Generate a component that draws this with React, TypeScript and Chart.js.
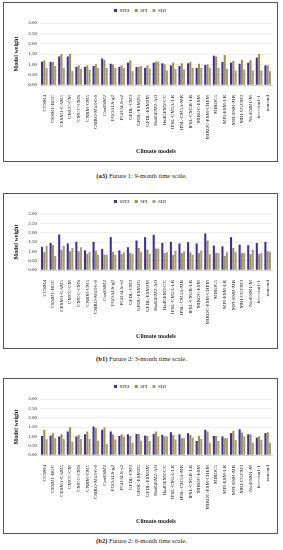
import React, { useEffect, useRef } from "react";
import { Chart, registerables } from "chart.js";

Chart.register(...registerables);

const models = [
  "CCSM4", "CESM1-BGC", "CESM1-CAM5", "CMCC-CM", "CMCC-CMS", "CNRM-CM5",
  "CSIRO-Mk3-6-0", "CanESM2", "FGOALS-g2", "FGOALS-s2", "GFDL-CM3",
  "GFDL-ESM2G", "GFDL-ESM2M", "HadGEM2-AO", "HadGEM2-CC", "IPSL-CM5A-LR",
  "IPSL-CM5A-MR", "IPSL-CM5B-LR", "MIROC-ESM", "MIROC-ESM-CHEM", "MIROC5",
  "MPI-ESM-LR", "MPI-ESM-MR", "MRI-CGCM3", "NorESM1-M", "bcc-csm1-1", "inmcm4",
];

const seriesNames = ["SPEI", "SPI", "SDI"];
const yTicks = [0, 0.5, 1, 1.5, 2, 2.5, 3];

// (a3) Future 1: 9-month
const a3Spei = [1.13, 1.12, 1.38, 1.38, 0.88, 0.88, 0.92, 1.28, 1.03, 0.88, 1.08, 0.87, 0.83, 1.08, 1.05, 0.95, 0.92, 1.05, 0.83, 0.97, 1.42, 1.12, 1.08, 1.03, 1.08, 1.33, 0.95];
const a3Spi = [1.2, 1.12, 1.5, 1.5, 0.95, 0.95, 1.0, 1.22, 1.0, 0.95, 1.2, 0.88, 0.95, 1.13, 1.0, 1.08, 1.05, 1.12, 1.03, 1.0, 1.38, 1.45, 1.17, 1.22, 1.2, 1.5, 0.95];
const a3Sdi = [0.83, 0.92, 0.83, 0.67, 0.78, 0.75, 0.83, 0.83, 0.83, 0.83, 0.67, 0.92, 0.8, 1.13, 0.7, 0.78, 0.75, 0.83, 0.83, 0.83, 0.83, 0.78, 0.7, 0.75, 0.7, 0.7, 0.67];

// (b1) Future 2: 3-month
const b1Spei = [1.24, 1.45, 1.9, 1.42, 1.51, 1.05, 1.51, 1.13, 1.76, 1.05, 1.22, 1.58, 1.76, 1.89, 1.45, 1.51, 1.42, 1.49, 1.42, 1.96, 1.31, 1.27, 1.76, 1.36, 1.33, 1.45, 1.51];
const b1Spi = [0.95, 1.33, 1.09, 1.0, 1.0, 0.87, 1.04, 0.82, 0.96, 0.85, 0.91, 1.18, 1.09, 1.15, 0.91, 0.82, 0.91, 0.95, 0.91, 1.58, 0.91, 0.76, 1.18, 0.91, 0.85, 0.85, 1.0];
const b1Sdi = [1.3, 0.76, 1.3, 1.18, 1.22, 0.96, 0.82, 0.82, 0.82, 0.95, 0.87, 0.95, 0.87, 1.15, 0.95, 1.04, 1.0, 0.82, 1.04, 0.85, 0.91, 0.95, 0.95, 0.91, 1.09, 0.91, 0.96];

// (b2) Future 2: 6-month
const b2Spei = [1.02, 1.04, 0.99, 1.26, 0.99, 1.11, 1.53, 1.35, 1.26, 1.02, 1.11, 1.13, 1.04, 1.13, 1.08, 1.22, 1.11, 1.17, 0.75, 1.35, 1.02, 0.99, 1.17, 1.38, 1.11, 0.93, 1.17];
const b2Spi = [1.35, 1.17, 1.11, 1.49, 1.08, 1.26, 1.44, 1.47, 1.11, 1.11, 1.02, 1.13, 1.02, 1.26, 0.99, 1.08, 0.9, 1.08, 1.02, 1.26, 1.02, 0.9, 1.29, 1.2, 1.11, 0.99, 1.22];
const b2Sdi = [0.84, 0.9, 0.86, 0.72, 0.86, 0.86, 0.77, 0.59, 0.84, 0.99, 0.66, 0.77, 0.75, 0.99, 0.99, 0.84, 0.9, 0.93, 0.86, 0.66, 0.75, 0.9, 0.81, 0.99, 0.66, 0.81, 0.66];

const COLORS = ["#3b2f9c", "#a6913f", "#a39b8b"];
const FONT = "'Liberation Serif', 'DejaVu Serif', serif";

function Panel(props: {
  spei: number[]; spi: number[]; sdi: number[];
  top: number; height: number; bottomPad: number; xHeight: number;
}) {
  const ref = useRef<HTMLCanvasElement>(null);
  useEffect(() => {
    const ctx = ref.current!;
    const data = [props.spei, props.spi, props.sdi];
    const chart = new Chart(ctx, {
      type: "bar",
      data: {
        labels: models,
        datasets: seriesNames.map((n, i) => ({
          label: n,
          data: data[i],
          backgroundColor: COLORS[i],
          categoryPercentage: 0.8,
          barPercentage: 0.9,
        })),
      },
      options: {
        animation: false,
        responsive: false,
        maintainAspectRatio: false,
        layout: { padding: { left: 4, right: 5, top: 0, bottom: props.bottomPad } },
        plugins: {
          tooltip: { enabled: false },
          legend: {
            display: true,
            position: "top",
            labels: {
              boxWidth: 3,
              boxHeight: 3,
              padding: 5,
              color: "#222",
              font: { family: FONT, size: 5 },
            },
          },
        },
        scales: {
          x: {
            afterFit: (s: any) => { s.height = props.xHeight; },
            grid: { display: false },
            border: { display: true, color: "#d0d0d0" },
            ticks: {
              autoSkip: false,
              maxRotation: 90,
              minRotation: 90,
              padding: 2,
              color: "#111",
              font: { family: FONT, size: 5 },
            },
            title: {
              display: true,
              text: "Climate models",
              color: "#222",
              padding: { top: 2, bottom: 0 },
              font: { family: FONT, size: 6, weight: "bold" },
            },
          },
          y: {
            min: 0,
            max: 3,
            afterFit: (s: any) => { s.width = 32; },
            afterBuildTicks: (axis: any) => {
              axis.ticks = yTicks.map((v) => ({ value: v }));
            },
            grid: { color: "#e3e3e3", lineWidth: 0.6, drawTicks: false },
            border: { display: false },
            ticks: {
              padding: 3,
              color: "#222",
              font: { family: FONT, size: 5 },
              callback: (v: any) => Number(v).toFixed(2),
            },
            title: {
              display: true,
              text: "Model weight",
              color: "#222",
              padding: { top: 5, bottom: 2 },
              font: { family: FONT, size: 6, weight: "bold" },
            },
          },
        },
      },
    });
    return () => chart.destroy();
  }, []);
  return (
    <div
      style={{
        position: "absolute",
        left: 3,
        top: props.top,
        width: 275,
        height: props.height,
        border: "1px solid #555",
        boxSizing: "border-box",
        background: "#fff",
      }}
    >
      <canvas ref={ref} width={273} height={props.height - 2} style={{ display: "block" }} />
    </div>
  );
}

function Caption(props: { tag: string; text: string; top: number }) {
  return (
    <div
      style={{
        position: "absolute",
        left: 0,
        top: props.top,
        width: 283,
        textAlign: "center",
        fontFamily: FONT,
        fontSize: 6.6,
        color: "#222",
        lineHeight: "8px",
      }}
    >
      <b>{props.tag}</b> {props.text}
    </div>
  );
}

export default function App() {
  useEffect(() => {
    document.body.style.margin = "0";
  }, []);
  return (
    <div style={{ width: 283, height: 550 }}>
      <Panel spei={a3Spei} spi={a3Spi} sdi={a3Sdi} top={2} height={160} bottomPad={6} xHeight={70} />
      <Caption tag="(a3)" text="Future 1: 9-month time scale." top={172} />
      <Panel spei={b1Spei} spi={b1Spi} sdi={b1Sdi} top={193} height={156} bottomPad={8} xHeight={70} />
      <Caption tag="(b1)" text="Future 2: 3-month time scale." top={355} />
      <Panel spei={b2Spei} spi={b2Spi} sdi={b2Sdi} top={378} height={156} bottomPad={8} xHeight={70} />
      <Caption tag="(b2)" text="Future 2: 6-month time scale." top={537} />
    </div>
  );
}
